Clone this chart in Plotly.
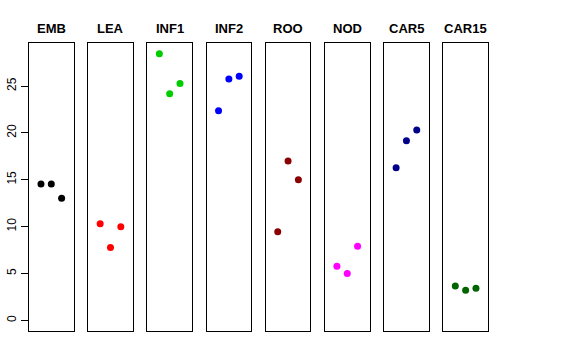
import plotly.graph_objects as go

categories = ["EMB", "LEA", "INF1", "INF2", "ROO", "NOD", "CAR5", "CAR15"]
replicates = [1, 2, 3]
values = {
    "EMB":   [14.55, 14.55, 13.02],
    "LEA":   [10.30, 7.76, 9.98],
    "INF1":  [28.45, 24.18, 25.28],
    "INF2":  [22.36, 25.75, 26.03],
    "ROO":   [9.44, 16.99, 14.99],
    "NOD":   [5.77, 4.99, 7.91],
    "CAR5":  [16.27, 19.16, 20.30],
    "CAR15": [3.67, 3.21, 3.42],
}
colors = ["#000000", "#FF0000", "#00CD00", "#0000FF",
          "#8B0000", "#FF00FF", "#00008B", "#006400"]
y_ticks = [0, 5, 10, 15, 20, 25]

W, H = 576, 360
L, R, T, B = 29, 88, 43, 29
plot_w = W - L - R
plot_h = H - T - B
step = 59.19
panel_w = 44.6
ymax = max(max(v) for v in values.values())
yrange = [-0.04 * ymax, 1.04 * ymax]
xrange = [-0.16, 4.16]

fig = go.Figure()
layout = {}
for i, (cat, col) in enumerate(zip(categories, colors)):
    n = "" if i == 0 else str(i + 1)
    x0 = i * step / plot_w
    x1 = (i * step + panel_w) / plot_w
    fig.add_trace(go.Scatter(
        x=replicates, y=values[cat], mode="markers",
        marker=dict(color=col, size=7, line=dict(width=0)),
        xaxis="x" + n, yaxis="y" + n, showlegend=False,
        hoverinfo="y",
    ))
    layout["xaxis" + n] = dict(
        domain=[x0, x1], range=xrange, anchor="y" + n, automargin=False,
        showgrid=False, zeroline=False, showticklabels=False, ticks="",
        showline=True, mirror=True, linecolor="#000000", linewidth=1,
    )
    ya = dict(
        domain=[0, 1], range=yrange, anchor="x" + n, automargin=False,
        showgrid=False, zeroline=False,
        showline=True, mirror=True, linecolor="#000000", linewidth=1,
    )
    if i == 0:
        ya.update(tickvals=y_ticks, ticks="outside", ticklen=7,
                  tickcolor="#000000", tickwidth=1, tickangle=-90,
                  tickfont=dict(family="Liberation Sans, Arial", size=12, color="#000000"))
    else:
        ya.update(showticklabels=False, ticks="")
    layout["yaxis" + n] = ya
    fig.add_annotation(
        x=(x0 + x1) / 2, y=1 + (43 - 28) / plot_h, xref="paper", yref="paper",
        text="<b>" + cat + "</b>", showarrow=False, xanchor="center", yanchor="middle",
        font=dict(family="Liberation Sans, Arial", size=13, color="#000000"),
    )

fig.update_layout(
    **layout,
    width=W, height=H,
    margin=dict(l=L, r=R, t=T, b=B, pad=0, autoexpand=False),
    plot_bgcolor="white", paper_bgcolor="white",
)
fig.write_html("out.html", config={"displayModeBar": False},
               post_script="document.body.style.margin='0px';")
